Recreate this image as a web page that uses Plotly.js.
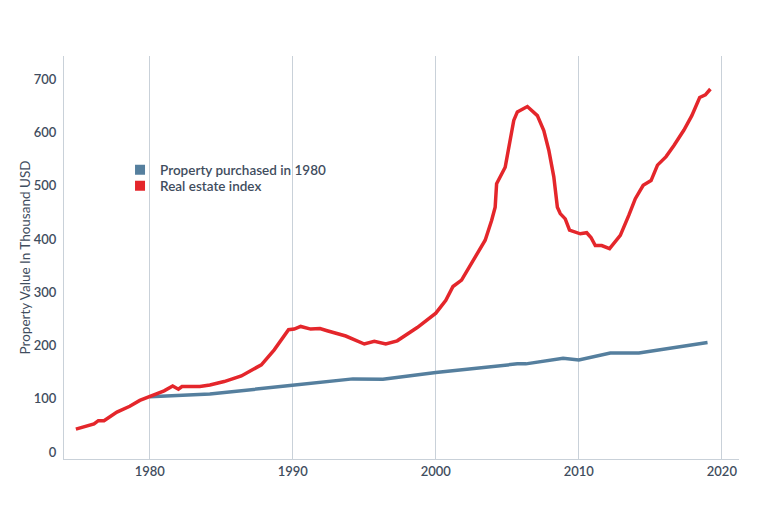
<!DOCTYPE html>
<html>
<head>
<meta charset="utf-8">
<script src="https://cdn.plot.ly/plotly-3.0.1.min.js"></script>
<style>html,body{margin:0;padding:0;background:#fff;}#chart{width:768px;height:530px;}</style>
</head>
<body>
<div id="chart"></div>
<script>
// Series names
const seriesNames = ["Property purchased in 1980", "Real estate index"];

// Property purchased in 1980 (thousand USD)
const propertyYears = [1980.0, 1984.2, 1989.8, 1994.2, 1996.3, 2000.0, 2005.7, 2006.3, 2008.9, 2010.0, 2012.2, 2014.2, 2019.0];
const propertyValues = [104, 109, 125, 137.5, 137, 149.4, 165.7, 165.7, 176, 173, 186, 186, 205.7];

// Real estate index (thousand USD)
const indexYears = [1974.83, 1976.1, 1976.4, 1976.8, 1977.7, 1978.6, 1979.3, 1980.0, 1981.0, 1981.6, 1982.0, 1982.25, 1983.5, 1984.2, 1985.2, 1986.4, 1987.8, 1988.7, 1989.7, 1990.1, 1990.55, 1991.25, 1991.9, 1992.4, 1993.3, 1993.7, 1995.0, 1995.7, 1996.5, 1997.3, 1998.7, 1999.6, 2000.0, 2000.7, 2001.2, 2001.8, 2002.75, 2003.1, 2003.45, 2003.9, 2004.15, 2004.25, 2004.85, 2005.45, 2005.7, 2006.4, 2007.1, 2007.55, 2007.9, 2008.25, 2008.5, 2008.7, 2009.05, 2009.35, 2010.1, 2010.55, 2010.85, 2011.15, 2011.6, 2012.15, 2012.9, 2013.5, 2013.95, 2014.5, 2015.05, 2015.5, 2016.1, 2016.65, 2017.35, 2017.9, 2018.45, 2018.85, 2019.2];
const indexValues = [43, 53, 59, 59, 75, 86, 97, 104, 115, 124, 118, 123, 123, 126, 132.5, 143, 164, 192, 230, 231, 236, 231, 232, 228, 220, 218, 203, 208, 203, 209, 234, 253, 261, 285, 311, 323, 367, 382, 398, 435, 460, 504, 535, 623, 639, 649, 632, 604, 567, 517, 460, 448, 438, 417, 410, 412, 403, 388, 388, 382, 407, 445, 476, 501, 510, 539, 555, 576, 605, 632, 666, 671, 682];

// Axis ticks
const xTicks = [1980, 1990, 2000, 2010, 2020];
const yTicks = [0, 100, 200, 300, 400, 500, 600, 700];

const blue = "#557f9e";
const red = "#e4262b";
const textColor = "#3f4d5e";

const traces = [
  {x: propertyYears, y: propertyValues, type: "scatter", mode: "lines", name: seriesNames[0],
   line: {color: blue, width: 3.5}, showlegend: false},
  {x: indexYears, y: indexValues, type: "scatter", mode: "lines", name: seriesNames[1],
   line: {color: red, width: 3.5}, showlegend: false},
  {x: [null], y: [null], type: "scatter", mode: "markers", name: seriesNames[0],
   marker: {color: blue, symbol: "square", size: 10}, showlegend: true, legend: "legend"},
  {x: [null], y: [null], type: "scatter", mode: "markers", name: seriesNames[1],
   marker: {color: red, symbol: "square", size: 10}, showlegend: true, legend: "legend2"}
];

const legendFont = {size: 13.5, color: textColor, weight: 600};

const layout = {
  width: 768, height: 530,
  margin: {l: 64, r: 29, t: 56, b: 71},
  paper_bgcolor: "#fff", plot_bgcolor: "#fff",
  font: {family: "Lato, 'Open Sans', sans-serif", color: textColor, size: 13},
  showlegend: true,
  legend: {x: 0.083, y: 0.7171, xanchor: "left", yanchor: "middle", bgcolor: "rgba(0,0,0,0)", font: legendFont},
  legend2: {x: 0.083, y: 0.6774, xanchor: "left", yanchor: "middle", bgcolor: "rgba(0,0,0,0)", font: legendFont},
  xaxis: {range: [1974.0, 2021.2], tickvals: xTicks, ticktext: xTicks.map(String),
          showgrid: true, gridcolor: "#c9d1d9", gridwidth: 1, zeroline: false,
          showline: true, linecolor: "#c9d1d9", linewidth: 1, ticks: "",
          tickfont: {size: 13, color: textColor, weight: 600}},
  yaxis: {range: [-13, 744], tickvals: yTicks, ticktext: yTicks.map(String),
          showgrid: false, zeroline: false, showline: true, linecolor: "#c9d1d9", linewidth: 1,
          ticks: "", ticklabelstandoff: 4,
          tickfont: {size: 13, color: textColor, weight: 600},
          title: {text: "Property Value In Thousand USD", font: {size: 13.5, color: textColor}, standoff: 0}}
};

Plotly.newPlot("chart", traces, layout, {displayModeBar: false, staticPlot: true});
</script>
</body>
</html>
